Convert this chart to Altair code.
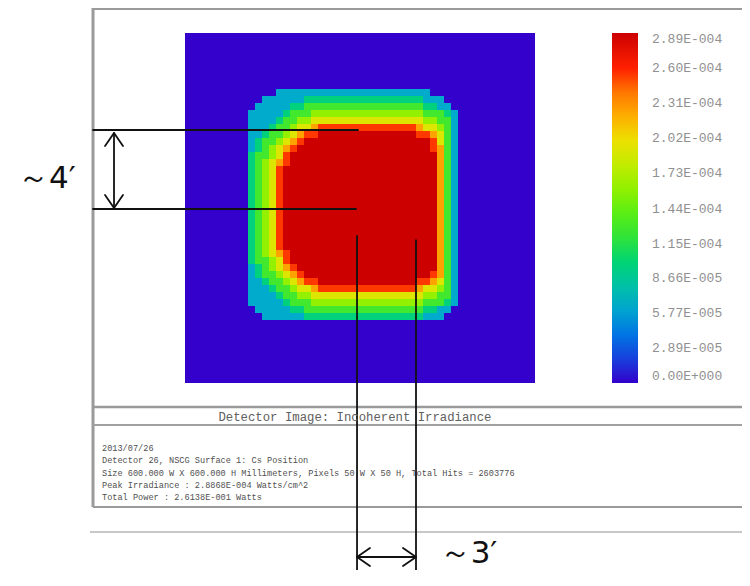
import altair as alt
import pandas as pd

# ---------------- data ----------------
# Irradiance level of each detector pixel (50 x 50), one digit per pixel,
# 0 = background ... 9 = peak (estimated from the false-colour image).
HEAT_ROWS = [
    "00000000000000000000000000000000000000000000000000",
    "00000000000000000000000000000000000000000000000000",
    "00000000000000000000000000000000000000000000000000",
    "00000000000000000000000000000000000000000000000000",
    "00000000000000000000000000000000000000000000000000",
    "00000000000000000000000000000000000000000000000000",
    "00000000000000000000000000000000000000000000000000",
    "00000000000000000000000000000000000000000000000000",
    "00000000000002222222222222222222222000000000000000",
    "00000000000222222333333333333333332220000000000000",
    "00000000002222233444444444444444443322000000000000",
    "00000000022222344455555555555555554443200000000000",
    "00000000022223445566666666666666665544200000000000",
    "00000000022234456678888888888888876654200000000000",
    "00000000022344567889999999999999988764200000000000",
    "00000000023445678999999999999999999864200000000000",
    "00000000023456789999999999999999999874200000000000",
    "00000000034456899999999999999999999974200000000000",
    "00000000034567899999999999999999999974200000000000",
    "00000000034568999999999999999999999974200000000000",
    "00000000034568999999999999999999999974200000000000",
    "00000000034568999999999999999999999974200000000000",
    "00000000034568999999999999999999999974200000000000",
    "00000000034568999999999999999999999974200000000000",
    "00000000034568999999999999999999999974200000000000",
    "00000000034568999999999999999999999974200000000000",
    "00000000034568999999999999999999999974200000000000",
    "00000000034568999999999999999999999974200000000000",
    "00000000034568999999999999999999999974200000000000",
    "00000000034568999999999999999999999974200000000000",
    "00000000034568999999999999999999999974200000000000",
    "00000000034567899999999999999999999974200000000000",
    "00000000034456899999999999999999999974200000000000",
    "00000000023456789999999999999999999974200000000000",
    "00000000023445678999999999999999999874200000000000",
    "00000000022344567889999999999999988764200000000000",
    "00000000022234456678888888888888876654200000000000",
    "00000000022223445566666666666666665544200000000000",
    "00000000022222344455555555555555554443200000000000",
    "00000000002222233444444444444444443322000000000000",
    "00000000000222222333333333333333332220000000000000",
    "00000000000000000000000000000000000000000000000000",
    "00000000000000000000000000000000000000000000000000",
    "00000000000000000000000000000000000000000000000000",
    "00000000000000000000000000000000000000000000000000",
    "00000000000000000000000000000000000000000000000000",
    "00000000000000000000000000000000000000000000000000",
    "00000000000000000000000000000000000000000000000000",
    "00000000000000000000000000000000000000000000000000",
    "00000000000000000000000000000000000000000000000000",
]
assert len(HEAT_ROWS) == 50 and all(len(r) == 50 for r in HEAT_ROWS)

PEAK_IRRADIANCE = 2.8868e-4          # W/cm^2, level 9
DETECTOR_SIZE_MM = 600.0
N_PIXELS = 50

TICK_LABELS = ["0.00E+000", "2.89E-005", "5.77E-005", "8.66E-005", "1.15E-004",
               "1.44E-004", "1.73E-004", "2.02E-004", "2.31E-004", "2.60E-004",
               "2.89E-004"]
TICK_VALUES = [0.0, 2.89e-5, 5.77e-5, 8.66e-5, 1.15e-4, 1.44e-4, 1.73e-4,
               2.02e-4, 2.31e-4, 2.60e-4, 2.89e-4]
RAMP_COLORS = ["#3300cc", "#1050e0", "#00a0d0", "#00c890", "#20e040", "#60f000",
               "#b0f000", "#f0e000", "#ff9000", "#ff2000", "#cc0000"]

PANEL_TITLE = "Detector Image: Incoherent Irradiance"
INFO_LINES = [
    "2013/07/26",
    "Detector 26, NSCG Surface 1: Cs Position",
    "Size 600.000 W X 600.000 H Millimeters, Pixels 50 W X 50 H, Total Hits = 2603776",
    "Peak Irradiance : 2.8868E-004 Watts/cm^2",
    "Total Power     : 2.6138E-001 Watts",
]
NOTE_TEXTS = ["\uff5e4\u2032", "\uff5e3\u2032"]

# ---------------- layout (detector millimetres, 7 px = 12 mm) ----------------
W, H = 734, 562
X_DOMAIN = [-300 - 177 * 12 / 7, -300 - 177 * 12 / 7 + W * 12 / 7]
Y_DOMAIN = [300 + 25 * 12 / 7 - H * 12 / 7, 300 + 25 * 12 / 7]
X_RIGHT = 654.8
Y_BOTTOM = -620.5

FRAME_SEGS = pd.DataFrame({
    "x1": [-457.7, -459.4, -457.7, -457.7, -457.7, -462.9],
    "y1": [342.9, 341.1, -341.1, -372.0, -512.6, -555.4],
    "x2": [-457.7, X_RIGHT, X_RIGHT, X_RIGHT, X_RIGHT, X_RIGHT],
    "y2": [-512.6, 341.1, -341.1, -372.0, -512.6, -555.4],
    "w": [3.0, 2.0, 2.5, 2.0, 2.0, 2.0],
    "col": ["#9a9a9a", "#9a9a9a", "#9a9a9a", "#a0a0a0", "#9a9a9a", "#c8c8c8"],
})

NOTE_SEGS = pd.DataFrame({
    "x1": [-457.7, -457.7, -421.7, -421.7, -421.7, -421.7, -421.7,
           -5.1, 96.0, -5.1, -5.1, -5.1, 96.0, 96.0],
    "y1": [133.7, -1.7, 126.9, 128.6, 128.6, 0.0, 0.0,
           -48.0, -54.9, -598.3, -598.3, -598.3, -598.3, -598.3],
    "x2": [-3.4, -6.9, -421.7, -437.1, -406.3, -437.1, -406.3,
           -5.1, 96.0, 96.0, 17.1, 17.1, 73.7, 73.7],
    "y2": [133.7, -1.7, 1.7, 106.3, 106.3, 22.3, 22.3,
           Y_BOTTOM, Y_BOTTOM, -598.3, -582.9, -613.7, -582.9, -613.7],
})

INFO_X = -442.3
INFO_Y = [-411.4, -432.5, -453.6, -474.7, -495.8]
TITLE_XY = (-8.6, -358.3)
NOTE_XY = [(-536.6, 49.7), (186.0, -593.0)]

# ---------------- tables ----------------
cell = DETECTOR_SIZE_MM / N_PIXELS
half = DETECTOR_SIZE_MM / 2
recs = []
for r, line in enumerate(HEAT_ROWS):
    for c, ch in enumerate(line):
        x0 = -half + c * cell
        y0 = half - r * cell
        recs.append({"x": x0, "x2": x0 + cell, "y": y0, "y2": y0 - cell,
                     "irr": int(ch) * PEAK_IRRADIANCE / 9})
heat = pd.DataFrame(recs)

info = pd.DataFrame({"x": [INFO_X] * len(INFO_LINES), "y": INFO_Y, "t": INFO_LINES})
title_df = pd.DataFrame({"x": [TITLE_XY[0]], "y": [TITLE_XY[1]], "t": [PANEL_TITLE]})
notes = pd.DataFrame({"x": [p[0] for p in NOTE_XY], "y": [p[1] for p in NOTE_XY], "t": NOTE_TEXTS})

xsc = alt.Scale(domain=X_DOMAIN, nice=False, zero=False)
ysc = alt.Scale(domain=Y_DOMAIN, nice=False, zero=False)

label_expr = "[" + ",".join("'%s'" % s for s in TICK_LABELS) + "][round(datum.value / 2.89e-5)]"

heatmap = alt.Chart(heat).mark_rect(strokeWidth=0).encode(
    x=alt.X("x:Q", scale=xsc, axis=None),
    x2="x2:Q",
    y=alt.Y("y:Q", scale=ysc, axis=None),
    y2="y2:Q",
    color=alt.Color(
        "irr:Q",
        scale=alt.Scale(type="linear", domain=TICK_VALUES, range=RAMP_COLORS),
        legend=alt.Legend(
            title=None, orient="none", legendX=604, legendY=25,
            direction="vertical", gradientLength=350, gradientThickness=26,
            gradientStrokeWidth=0, values=TICK_VALUES, labelExpr=label_expr,
            labelFont="Liberation Mono", labelFontSize=13, labelColor="#909090",
            labelOffset=14, labelOverlap=False, labelBaseline="middle",
            labelAlign="left",
        ),
    ),
)

frame = alt.Chart(FRAME_SEGS).mark_rule(strokeCap="butt").encode(
    x=alt.X("x1:Q", scale=xsc, axis=None), x2="x2:Q",
    y=alt.Y("y1:Q", scale=ysc, axis=None), y2="y2:Q",
    stroke=alt.Stroke("col:N", scale=None),
    strokeWidth=alt.StrokeWidth("w:Q", scale=None),
)

note_lines = alt.Chart(NOTE_SEGS).mark_rule(strokeCap="round", color="#111111", strokeWidth=1.8).encode(
    x=alt.X("x1:Q", scale=xsc, axis=None), x2="x2:Q",
    y=alt.Y("y1:Q", scale=ysc, axis=None), y2="y2:Q",
)

info_text = alt.Chart(info).mark_text(align="left", baseline="middle", font="Liberation Mono",
                                      fontSize=8.6, color="#505050").encode(
    x=alt.X("x:Q", scale=xsc, axis=None), y=alt.Y("y:Q", scale=ysc, axis=None), text="t:N")

title_text = alt.Chart(title_df).mark_text(align="center", baseline="middle", font="Liberation Mono",
                                           fontSize=12.3, color="#606060").encode(
    x=alt.X("x:Q", scale=xsc, axis=None), y=alt.Y("y:Q", scale=ysc, axis=None), text="t:N")

note_text = alt.Chart(notes).mark_text(align="center", baseline="middle", font="DejaVu Sans",
                                       fontSize=31, color="#111111").encode(
    x=alt.X("x:Q", scale=xsc, axis=None), y=alt.Y("y:Q", scale=ysc, axis=None), text="t:N")

chart = alt.layer(frame, heatmap, note_lines, info_text, title_text, note_text).properties(
    width=W, height=H,
    autosize=alt.AutoSizeParams(type="none"),
    padding={"left": 0, "top": 0, "right": 0, "bottom": 0},
    background="white",
).configure_view(stroke="transparent")

chart.save("out.html", embed_options={"renderer": "svg", "actions": False})
